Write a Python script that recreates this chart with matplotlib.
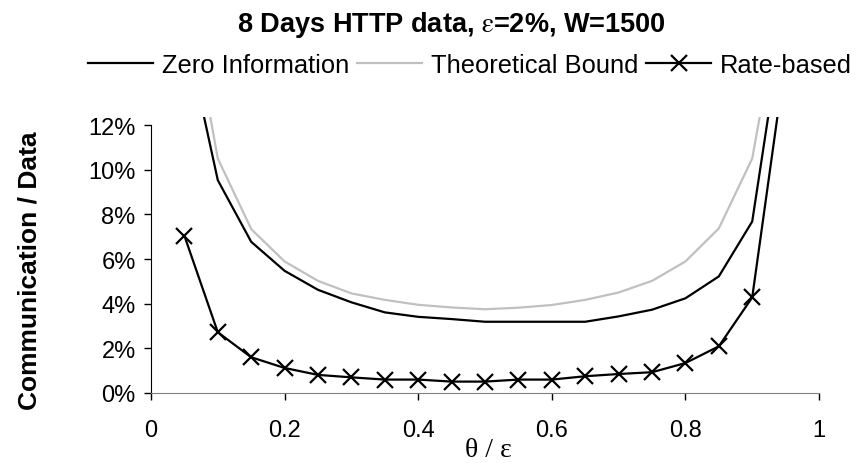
import numpy as np
import matplotlib
matplotlib.use('Agg')
import matplotlib.pyplot as plt

plt.rcParams['font.family'] = ['Liberation Sans', 'DejaVu Sans']
plt.rcParams['mathtext.fontset'] = 'stix'

# theta / epsilon
x = [0.05, 0.10, 0.15, 0.20, 0.25, 0.30, 0.35, 0.40, 0.45, 0.50,
     0.55, 0.60, 0.65, 0.70, 0.75, 0.80, 0.85, 0.90, 0.95]

# communication / data, in percent
zero_info = [16.4, 9.53, 6.77, 5.47, 4.62, 4.06, 3.61, 3.41, 3.31, 3.19,
             3.19, 3.19, 3.19, 3.43, 3.73, 4.24, 5.22, 7.68, 17.5]
theory = [18.8, 10.5, 7.34, 5.89, 5.02, 4.46, 4.17, 3.95, 3.83, 3.75,
          3.82, 3.94, 4.17, 4.50, 5.02, 5.89, 7.37, 10.5, 18.8]
rate_based = [7.04, 2.72, 1.60, 1.12, 0.81, 0.70, 0.60, 0.60, 0.51, 0.51,
              0.60, 0.60, 0.75, 0.85, 0.93, 1.34, 2.09, 4.28, 15.0]

yticks = [0, 2, 4, 6, 8, 10, 12]
ytick_labels = ['0%', '2%', '4%', '6%', '8%', '10%', '12%']
xticks = [0, 0.2, 0.4, 0.6, 0.8, 1]
xtick_labels = ['0', '0.2', '0.4', '0.6', '0.8', '1']

fig = plt.figure(figsize=(8.56, 4.64), dpi=100)
ax = fig.add_axes([0.1764, 0.1509, 0.7804, 0.5948])

ax.plot(x, zero_info, color='black', lw=1.6, label='Zero Information')
ax.plot(x, theory, color='#c0c0c0', lw=1.6, label='Theoretical Bound')
ax.plot(x, rate_based, color='black', lw=1.6, marker='x', ms=11, mew=1.6,
        label='Rate-based')

ax.set_xlim(0, 1)
ax.set_ylim(0, 12.36)
ax.set_xticks(xticks)
ax.set_xticklabels(xtick_labels)
ax.set_yticks(yticks)
ax.set_yticklabels(ytick_labels)
ax.tick_params(axis='both', labelsize=17, length=5, width=1, direction='out')
ax.tick_params(axis='x', pad=14)
ax.tick_params(axis='y', pad=6)

for s in ['top', 'right']:
    ax.spines[s].set_visible(False)
ax.spines['left'].set_bounds(0, 12)
ax.spines['bottom'].set_color('#808080')

# axis titles
fig.text(0.034, 0.416, 'Communication / Data', rotation=90, ha='center',
         va='center', fontsize=19, fontweight='bold')
fig.text(0.571, 0.016, 'θ / ε', ha='center', va='baseline', fontsize=20,
         family='Liberation Serif')

fig.text(0.5275, 0.931, r'8 Days HTTP data, $\mathrm{\varepsilon}$=2%, W=1500',
         ha='center', va='baseline', fontsize=19.5, fontweight='bold')
fig.legend(loc='center', bbox_to_anchor=(0.549, 0.858), ncol=3, frameon=False,
           fontsize=18.4, handlelength=2.54, handletextpad=0.35,
           columnspacing=0.31, borderpad=0, borderaxespad=0)

fig.savefig('out.png', dpi=100)
